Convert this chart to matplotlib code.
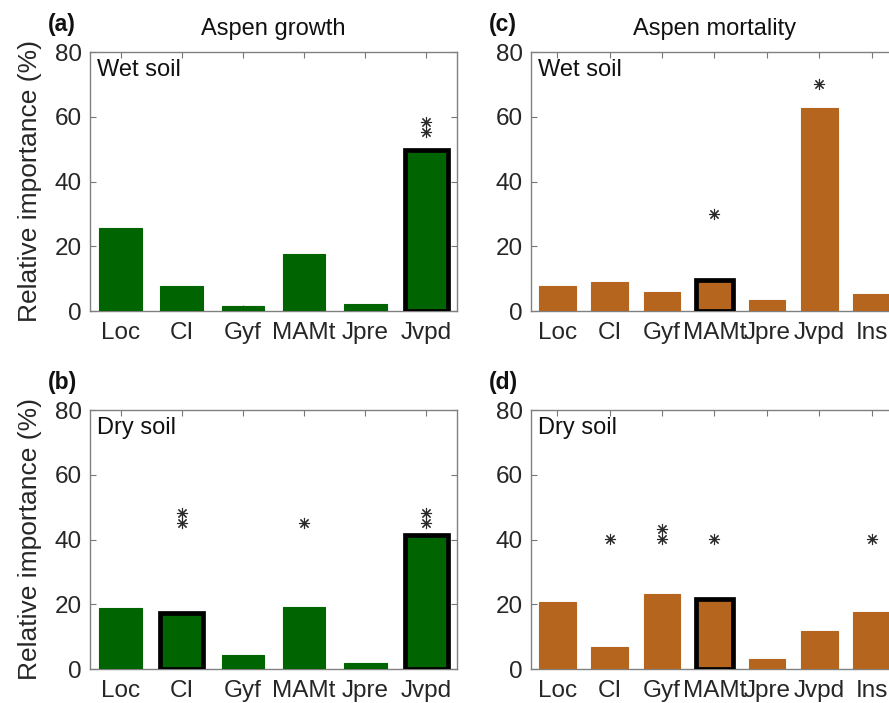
import numpy as np
import matplotlib
matplotlib.use("Agg")
import matplotlib.pyplot as plt

plt.rcParams['font.family'] = ['Liberation Sans', 'DejaVu Sans']

# predictor names
growth_vars = ["Loc", "CI", "Gyf", "MAMt", "Jpre", "Jvpd"]
mort_vars = ["Loc", "CI", "Gyf", "MAMt", "Jpre", "Jvpd", "Ins"]

# relative importance (%)
growth_wet = [25.6, 7.8, 1.6, 17.6, 2.1, 49.8]
growth_dry = [18.8, 17.4, 4.4, 19.3, 2.0, 41.3]
mort_wet = [7.7, 9.0, 5.9, 9.7, 3.5, 62.8, 5.4]
mort_dry = [20.6, 6.7, 23.3, 21.7, 3.1, 11.6, 17.6]

# bars picked out with a heavy outline (index into the variable list)
growth_wet_box = [5]
growth_dry_box = [1, 5]
mort_wet_box = [3]
mort_dry_box = [3]

# significance asterisks: (variable index, y position)
growth_wet_star = [(5, 55.2), (5, 58.5)]
growth_dry_star = [(1, 45.2), (1, 48.1), (3, 45.2), (5, 45.2), (5, 48.1)]
mort_wet_star = [(3, 30.1), (5, 70.2)]
mort_dry_star = [(1, 40.2), (2, 40.2), (2, 43.2), (3, 40.2), (6, 40.2)]

green = "#006400"
orange = "#b5651d"

W, H = 889, 703
fig = plt.figure(figsize=(W / 100, H / 100), dpi=100)


def make_axes(left, top, width, height):
    return fig.add_axes([left / W, 1 - (top + height) / H, width / W, height / H])


def panel(ax, names, vals, boxed, stars, color, soil, tag, title=None, ylab=True):
    x = np.arange(1, len(names) + 1)
    for i, (xi, v) in enumerate(zip(x, vals)):
        if i in boxed:
            ax.bar(xi, v, width=0.7, color=color, edgecolor="black",
                   linewidth=3.4, zorder=3)
        else:
            ax.bar(xi, v, width=0.7, color=color, edgecolor=color,
                   linewidth=0.8, zorder=3)
    for i, y in stars:
        ax.plot(x[i], y, marker=(8, 2, 0), markersize=8, mew=0.8,
                color="#2a2a2a", linestyle="none", zorder=4)
    ax.set_xlim(0.5, len(names) + 0.5)
    ax.set_ylim(0, 80)
    ax.set_yticks([0, 20, 40, 60, 80])
    ax.set_xticks(x)
    ax.set_xticklabels(names)
    ax.tick_params(direction="in", length=4, width=0.8, color="#777777",
                   labelsize=17.5, labelcolor="#262626", top=True, right=True)
    ax.tick_params(axis="x", pad=8)
    ax.tick_params(axis="y", pad=6)
    for s in ax.spines.values():
        s.set_color("#808080")
        s.set_linewidth(1.0)
        s.set_zorder(2)
    ax.text(0.02, 0.93, soil, transform=ax.transAxes, fontsize=17,
            ha="left", va="center", color="#111111")
    ax.text(-0.115, 1.105, tag, transform=ax.transAxes, fontsize=16.5,
            fontweight="bold", ha="left", va="center", color="#111111")
    if title:
        ax.text(0.5, 1.09, title, transform=ax.transAxes, fontsize=17,
                ha="center", va="center", color="#111111")
    if ylab:
        ax.set_ylabel("Relative importance (%)", fontsize=19, color="#262626",
                      labelpad=9)


ax_a = make_axes(90, 52, 367, 259)
ax_b = make_axes(90, 410, 367, 259)
ax_c = make_axes(531, 52, 367, 259)
ax_d = make_axes(531, 410, 367, 259)

panel(ax_a, growth_vars, growth_wet, growth_wet_box, growth_wet_star, green,
      "Wet soil", "(a)", "Aspen growth")
panel(ax_b, growth_vars, growth_dry, growth_dry_box, growth_dry_star, green,
      "Dry soil", "(b)")
panel(ax_c, mort_vars, mort_wet, mort_wet_box, mort_wet_star, orange,
      "Wet soil", "(c)", "Aspen mortality", ylab=False)
panel(ax_d, mort_vars, mort_dry, mort_dry_box, mort_dry_star, orange,
      "Dry soil", "(d)", ylab=False)

fig.savefig("out.png", dpi=100)
